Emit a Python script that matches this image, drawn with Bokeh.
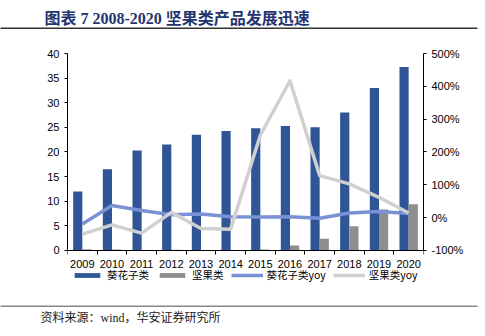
from bokeh.plotting import figure
from bokeh.models import (Range1d, LinearAxis, FixedTicker, NumeralTickFormatter,
                          ColumnDataSource, Legend, LegendItem, Title)
from bokeh.transform import dodge
from bokeh.embed import file_html
from bokeh.resources import INLINE

years = ["2009", "2010", "2011", "2012", "2013", "2014", "2015", "2016", "2017", "2018", "2019", "2020"]
sunflower = [12.0, 16.5, 20.3, 21.5, 23.5, 24.25, 24.8, 25.3, 25.0, 28.0, 33.0, 37.25]
nuts = [0.27, 0.21, 0.11, 0.13, 0.09, 0.06, 0.2, 1.0, 2.4, 4.9, 8.3, 9.4]
sunflower_yoy = [-0.19, 0.37, 0.22, 0.09, 0.11, 0.03, 0.02, 0.03, -0.02, 0.14, 0.19, 0.13]
nuts_yoy = [-0.50, -0.22, -0.47, 0.16, -0.33, -0.35, 2.51, 4.17, 1.28, 1.03, 0.62, 0.14]
left_ticks = [0, 5, 10, 15, 20, 25, 30, 35, 40]
right_ticks = [-1, 0, 1, 2, 3, 4, 5]
title_text = "图表 7 2008-2020 坚果类产品发展迅速"
source_text = "资料来源：wind，华安证券研究所"

pos = [i + 0.5 for i in range(len(years))]
src = ColumnDataSource(dict(pos=pos, year=years, sunflower=sunflower, nuts=nuts,
                            sunflower_yoy=sunflower_yoy, nuts_yoy=nuts_yoy))

# value axes 0..40 and -100%..500%, frame extended below zero to hold labels + legend
p = figure(width=485, height=336, output_backend="svg", toolbar_location=None,
           x_range=Range1d(0, len(years)), y_range=Range1d(-6.5, 40),
           min_border_left=67, min_border_right=62, min_border_top=53, min_border_bottom=54)
p.extra_y_ranges = {"yoy": Range1d(-1.975, 5)}
p.outline_line_color = None
p.xgrid.visible = False
p.ygrid.visible = False
p.background_fill_color = "white"
p.border_fill_color = "white"

AX_FONT = "Liberation Sans"

# x axis drawn at y = 0
xa = p.xaxis[0]
xa.fixed_location = 0
xa.ticker = FixedTicker(ticks=pos, minor_ticks=list(range(len(years) + 1)))
xa.major_label_overrides = {x: y for x, y in zip(pos, years)}
xa.major_tick_line_alpha = 0
xa.minor_tick_in = 0
xa.minor_tick_out = 4
xa.minor_tick_line_color = "#000000"
xa.axis_line_color = "#000000"
xa.major_label_text_font = AX_FONT
xa.major_label_text_font_size = "11px"
xa.major_label_text_color = "#000000"
xa.major_label_standoff = 4

# left axis
ya = p.yaxis[0]
ya.bounds = (0, 40)
ya.ticker = FixedTicker(ticks=left_ticks)
ya.major_tick_in = 0
ya.major_tick_out = 3
ya.minor_tick_line_alpha = 0
ya.axis_line_color = "#000000"
ya.major_tick_line_color = "#000000"
ya.major_label_text_font = AX_FONT
ya.major_label_text_font_size = "11px"
ya.major_label_text_color = "#000000"
ya.major_label_standoff = 5

# right axis
ra = LinearAxis(y_range_name="yoy", ticker=FixedTicker(ticks=right_ticks), bounds=(-1, 5),
                formatter=NumeralTickFormatter(format="0%"))
ra.major_tick_in = 0
ra.major_tick_out = 3
ra.minor_tick_line_alpha = 0
ra.axis_line_color = "#000000"
ra.major_tick_line_color = "#000000"
ra.major_label_text_font = AX_FONT
ra.major_label_text_font_size = "11px"
ra.major_label_text_color = "#000000"
ra.major_label_standoff = 5
p.add_layout(ra, "right")

BLUE = "#2f5597"
GRAY = "#8e8e8e"
LBLUE = "#7b91d6"
LGRAY = "#d0d0d0"

r1 = p.vbar(x=dodge("pos", -0.155, range=p.x_range), top="sunflower", bottom=0, width=0.31,
            source=src, fill_color=BLUE, line_color=None)
r2 = p.vbar(x=dodge("pos", 0.155, range=p.x_range), top="nuts", bottom=0, width=0.31,
            source=src, fill_color=GRAY, line_color=None)
r3 = p.line(x="pos", y="sunflower_yoy", source=src, y_range_name="yoy",
            line_color=LBLUE, line_width=3.5, line_join="round")
r4 = p.line(x="pos", y="nuts_yoy", source=src, y_range_name="yoy",
            line_color=LGRAY, line_width=3.5, line_join="round")

legend = Legend(items=[LegendItem(label="葵花子类", renderers=[r1]),
                       LegendItem(label="坚果类", renderers=[r2]),
                       LegendItem(label="葵花子类yoy", renderers=[r3]),
                       LegendItem(label="坚果类yoy", renderers=[r4])],
                orientation="horizontal", location=(4, 0),
                glyph_width=32, glyph_height=6, label_height=10, label_standoff=4,
                spacing=7, padding=0, margin=0,
                border_line_alpha=0, background_fill_alpha=0,
                label_text_font="Noto Sans CJK SC", label_text_font_size="10.5px",
                label_text_color="#000000")
p.add_layout(legend)

RULE = "\u3000" * 477


def spacer(h):
    return Title(text=" ", text_font_size="1px", standoff=h)


def rule(color):
    return Title(text=RULE, text_font="Noto Sans CJK SC", text_font_size="1px",
                 standoff=2, align="left", offset=-67, vertical_align="top",
                 text_color=color, background_fill_color=color, padding=0)


# above panels, listed from the frame outward
p.add_layout(spacer(19), "above")
p.add_layout(rule("#333333"), "above")
p.add_layout(Title(text=title_text, align="left", offset=-23, standoff=0,
                   text_font="Liberation Serif, Noto Sans CJK SC", text_font_size="16px",
                   text_font_style="bold", text_color="#1f3470"), "above")

# below panels, listed from the frame outward
p.add_layout(spacer(19), "below")
p.add_layout(rule("#888888"), "below")
p.add_layout(Title(text=source_text, align="left", offset=-27, standoff=3, vertical_align="top",
                   text_font="Liberation Serif, Noto Sans CJK SC", text_font_size="12px",
                   text_font_style="normal", text_color="#222222"), "below")

open("out.html", "w").write(file_html(p, INLINE))
